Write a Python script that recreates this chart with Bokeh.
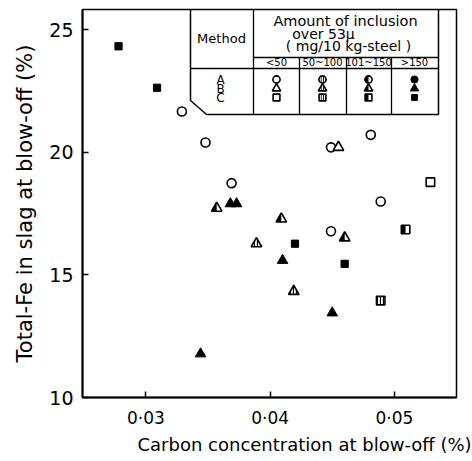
import numpy as np
from bokeh.plotting import figure
from bokeh.models import FixedTicker, Range1d, Title
from bokeh.core.properties import value
from bokeh.embed import file_html
from bokeh.resources import INLINE

# ---------------- data (carbon %, total-Fe %) ----------------
# Method A (circles)
a_lt50_x = [0.0329, 0.0348, 0.0369, 0.0481, 0.0449, 0.0489, 0.0449]
a_lt50_y = [21.66, 20.40, 18.74, 20.71, 20.20, 17.99, 16.78]
# Method B (triangles)
b_lt50_x = [0.0455]
b_lt50_y = [20.20]
b_50_100_x = [0.0389, 0.0419]
b_50_100_y = [16.27, 14.33]
b_101_150_x = [0.0357, 0.0409, 0.0460]
b_101_150_y = [17.72, 17.28, 16.51]
b_gt150_x = [0.0368, 0.0373, 0.0344, 0.0410, 0.0450]
b_gt150_y = [17.90, 17.90, 11.78, 15.59, 13.45]
# Method C (squares)
c_lt50_x = [0.0529]
c_lt50_y = [18.78]
c_50_100_x = [0.0489]
c_50_100_y = [13.95]
c_101_150_x = [0.0509]
c_101_150_y = [16.85]
c_gt150_x = [0.0278, 0.0309, 0.0420, 0.0460]
c_gt150_y = [24.32, 22.63, 16.27, 15.45]

x_ticks = [0.03, 0.04, 0.05]
x_tick_labels = ["0·03", "0·04", "0·05"]
y_ticks = [10, 15, 20, 25]
y_tick_labels = ["10", "15", "20", "25"]

methods = ["A", "B", "C"]
classes = ["<50", "50~100", "101~150", ">150"]

FONT = "DejaVu Sans"
X0, X1 = 0.0249, 0.0550
Y0, Y1 = 10.0, 25.82
FL, FT, FW, FH = 82, 9, 374, 388
PX = (X1 - X0) / FW   # data units per screen pixel (x)
PY = (Y1 - Y0) / FH   # data units per screen pixel (y)

p = figure(width=472, height=461, x_range=Range1d(X0, X1), y_range=Range1d(Y0, Y1),
           output_backend="svg", toolbar_location=None,
           min_border_left=FL, min_border_right=472 - FL - FW,
           min_border_top=FT, min_border_bottom=461 - FT - FH)
p.grid.visible = False
p.outline_line_color = "black"
p.outline_line_width = 1.5
p.background_fill_color = "white"
p.border_fill_color = "white"

for ax in (p.xaxis[0], p.yaxis[0]):
    ax.axis_line_color = "black"
    ax.axis_line_width = 2
    ax.major_tick_in = 6
    ax.major_tick_out = 0
    ax.major_tick_line_width = 1.5
    ax.minor_tick_line_color = None
    ax.major_label_text_font = FONT
    ax.major_label_text_color = "black"
    ax.axis_label_text_font = FONT
    ax.axis_label_text_font_style = "normal"
    ax.axis_label_text_color = "black"

p.xaxis.ticker = FixedTicker(ticks=x_ticks)
p.xaxis.major_label_overrides = {t: l for t, l in zip(x_ticks, x_tick_labels)}
p.xaxis.major_label_text_font_size = "17px"
p.xaxis.major_label_standoff = 10

p.add_layout(Title(text="Carbon concentration at blow-off (%)", align="left",
                   offset=55, text_font=FONT, text_font_size="18px",
                   text_font_style="normal", text_color="black",
                   standoff=2), "below")

p.yaxis.ticker = FixedTicker(ticks=y_ticks)
p.yaxis.major_label_overrides = {t: l for t, l in zip(y_ticks, y_tick_labels)}
p.yaxis.major_label_text_font_size = "19px"
p.yaxis.major_label_standoff = 9
p.yaxis.axis_label = "Total-Fe in slag at blow-off (%)"
p.yaxis.axis_label_text_font_size = "21px"
p.yaxis.axis_label_standoff = 9


def gx(px):
    return X0 + (px - FL) / FW * (X1 - X0)


def gy(py):
    return Y1 - (py - FT) / FH * (Y1 - Y0)


MK = {"A": "circle", "B": "triangle", "C": "square"}


def half_patches(method, xs, ys, size):
    """left-half filled shapes, sized in screen pixels around each data point"""
    pxs, pys = [], []
    r = size / 2
    for x, y in zip(xs, ys):
        if method == "B":
            h = r * np.sqrt(3)
            a = h / 3
            pxs.append([x - r * PX, x, x])
            pys.append([y - a * PY, y - a * PY, y + (h - a) * PY])
        else:
            pxs.append([x - r * PX, x, x, x - r * PX])
            pys.append([y - r * PY, y - r * PY, y + r * PY, y + r * PY])
    p.patches(pxs, pys, fill_color="black", line_color=None)


def draw(method, level, xs, ys, s=1.0):
    m = MK[method]
    size = {"A": 9, "B": 10.5, "C": 8.5}[method] * s
    if level == 0:
        p.scatter(xs, ys, marker=m, size=size, fill_color="white",
                  line_color="black", line_width=1.6)
    elif level == 1:
        p.scatter(xs, ys, marker=m, size=size, fill_color="white",
                  line_color="black", line_width=1.6,
                  hatch_pattern="|", hatch_color="black",
                  hatch_scale=3 * s, hatch_weight=1.3)
    elif level == 2:
        p.scatter(xs, ys, marker=m, size=size, fill_color="white",
                  line_color="black", line_width=1.6)
        if method == "A":
            p.wedge(xs, ys, radius=size / 2, radius_units="screen",
                    start_angle=np.pi / 2, end_angle=3 * np.pi / 2,
                    fill_color="black", line_color=None)
        else:
            half_patches(method, xs, ys, size)
    else:
        fs = size * (0.85 if method == "C" else 1.0)
        p.scatter(xs, ys, marker=m, size=fs, fill_color="black",
                  line_color="black", line_width=1)


# ---------------- legend table ----------------
outline_px = [(190, 9), (190, 100), (206, 114), (438, 114), (438, 9)]
p.line([gx(a) for a, b in outline_px], [gy(b) for a, b in outline_px],
       line_color="black", line_width=1.5)
segs_px = [((253, 9), (253, 114)), ((190, 68), (438, 68)), ((253, 57), (438, 57)),
           ((299, 57), (299, 114)), ((346, 57), (346, 114)), ((391, 57), (391, 114))]
p.segment([gx(a[0]) for a, b in segs_px], [gy(a[1]) for a, b in segs_px],
          [gx(b[0]) for a, b in segs_px], [gy(b[1]) for a, b in segs_px],
          line_color="black", line_width=1.3)


def label(px, py, txt, fs):
    p.text([gx(px)], [gy(py)], text=[txt], text_font=value(FONT),
           text_font_size=fs, text_align="center", text_baseline="middle",
           text_color="black")


label(221, 38, "Method", "13px")
label(345, 20, "Amount of inclusion", "14.5px")
label(323, 33, "over 53\u03bc", "14px")
label(348, 45, "( mg/10 kg-steel )", "14px")
col_px = [276, 322, 368, 414]
for cx, c in zip(col_px, classes):
    label(cx, 62, c, "10px")
row_py = [79, 88, 97]
for ry, mth in zip(row_py, methods):
    label(220, ry, mth, "12px")

for ry, mth in zip(row_py, methods):
    for lvl, cx in enumerate(col_px):
        draw(mth, lvl, [gx(cx)], [gy(ry)], s=0.8)

# ---------------- data markers ----------------
draw("A", 0, a_lt50_x, a_lt50_y)
draw("B", 0, b_lt50_x, b_lt50_y)
draw("B", 1, b_50_100_x, b_50_100_y)
draw("B", 2, b_101_150_x, b_101_150_y)
draw("B", 3, b_gt150_x, b_gt150_y)
draw("C", 0, c_lt50_x, c_lt50_y)
draw("C", 1, c_50_100_x, c_50_100_y)
draw("C", 2, c_101_150_x, c_101_150_y)
draw("C", 3, c_gt150_x, c_gt150_y)

open("out.html", "w").write(file_html(p, INLINE))
